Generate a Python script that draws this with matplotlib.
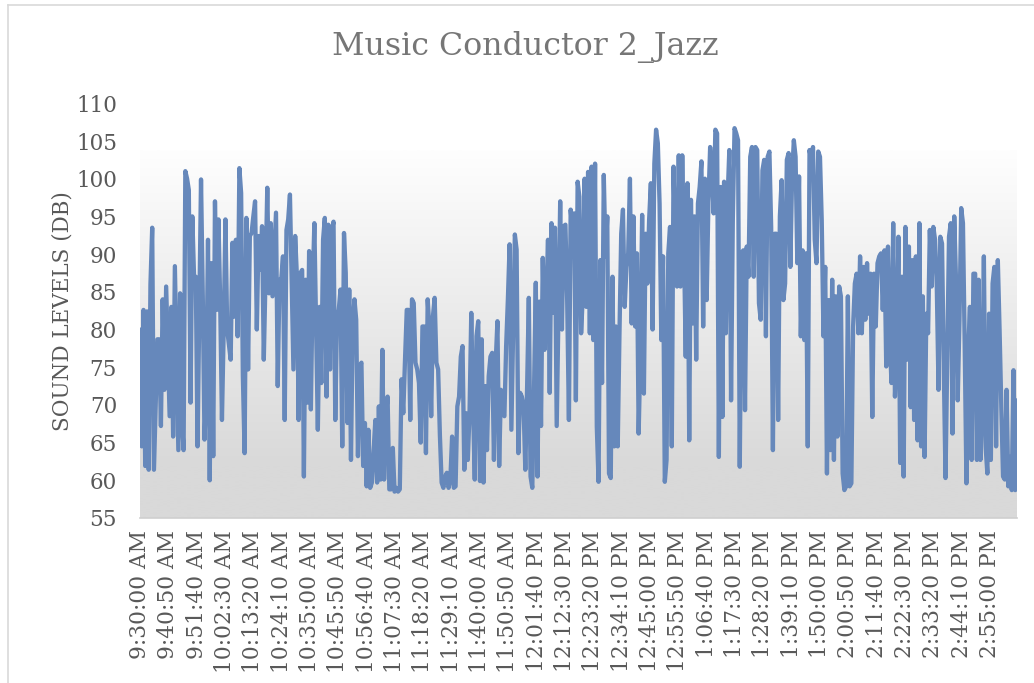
import numpy as np
import matplotlib
matplotlib.use("Agg")
import matplotlib.pyplot as plt
from matplotlib.lines import Line2D

# ---------------- data ----------------
step_seconds = 40          # spacing of the plotted samples
label_step_seconds = 650   # spacing of the category labels (10 min 50 s)

# sound levels (dB), left to right
db_0930_1032 = [80, 64.5, 82.6, 61.9, 82.4, 61.4, 86, 93.5, 61.4, 70, 78.7, 78.7, 67.2, 84, 72, 85.7, 77,
                68.5, 83, 65.8, 88.4, 76, 64, 84.8, 68, 64, 101, 100, 98.5, 70.3, 95, 87, 87, 64.5, 82,
                99.9, 84.4, 65.4, 72, 91.9, 60, 88.8, 63.2, 97, 82.6, 94.6, 83.5, 68, 80, 94.6, 80, 78,
                76, 91.5, 81.7, 91.9, 79.1, 101.4, 98.1, 73.8, 63.6, 94.8, 74.7, 92.4, 92.8, 95, 97, 80,
                92.4, 87.9, 93.7, 76, 87, 98.8, 84.8, 94.1, 84.4, 90, 95.5, 72.5, 86.6]
db_1032_1128 = [86.6, 89.7, 68, 93.2, 94.6, 97.9, 86, 74.7, 92.4, 87, 68, 87.5, 87.9, 60.5, 86.6, 70.3,
                90.4, 69.4, 85.3, 94.1, 80, 66.7, 83, 72.9, 91.9, 94.8, 71.1, 93.9, 74.7, 93.2, 94.3, 68,
                81.7, 82.6, 85.3, 64.5, 92.8, 87.5, 67.6, 85.3, 62.7, 80.9, 84, 81.3, 63.2, 75.1, 75.6,
                61.9, 67.6, 59.2, 66.7, 59, 59.7, 64, 68, 59.7, 69.8, 60.1, 77.3, 60.1, 68.5, 71.1, 58.8,
                58.8, 64.3, 58.5, 59, 58.5, 58.8, 73.4, 68.9, 76, 82.6, 82.6, 68, 84, 83.5, 75.6, 74.7,
                72.9, 65, 80.4, 80.4, 63.6]
db_1128_1224 = [84, 80, 68.5, 81.7, 84.2, 75.6, 74.7, 66, 59.7, 59, 60.5, 61, 59, 60.1, 65.8, 59, 59.2,
                69.8, 71.1, 76.4, 77.8, 61.4, 68.9, 62.7, 68.9, 82.2, 70, 60.1, 79.1, 81.1, 59.9, 78.7,
                59.7, 72.5, 64, 73.8, 76.4, 76.9, 62.7, 75.6, 81.1, 61.9, 72, 68.9, 68.5, 77.8, 84, 91.3,
                66.7, 80, 92.6, 90.6, 63.6, 71.6, 71.1, 69.8, 61.4, 72, 84.2, 60.5, 59, 72, 86.2, 60.5,
                83.7, 67.2, 89.5, 77.3, 83.5, 91.9, 71.6, 94.1, 82.2, 93.5, 67.2, 82, 97, 80, 93.7, 93.9,
                84, 68, 95.9, 93.2]
db_1224_1320 = [95.4, 70.6, 99.6, 97.6, 79.5, 84.8, 100, 83, 100.9, 79.5, 101.6, 78.6, 102, 67.1, 59.8,
                89.2, 72.9, 100.5, 89.7, 95, 60.9, 60.3, 87, 64.5, 80.4, 64.5, 79.5, 92.7, 95.9, 83, 88.3,
                90.1, 100, 80.8, 95, 80.4, 90.1, 66.2, 76.8, 95.2, 71.5, 92.7, 86.1, 94.5, 99.4, 80, 102,
                106.5, 104.7, 96.7, 78.6, 89.7, 59.8, 62.7, 90.1, 93.6, 64.5, 101.6, 91, 85.7, 103.1, 85.7,
                103.1, 91, 76.4, 99.4, 65.3, 97.2, 80.8, 95, 76, 96.7, 98.9, 102.3, 80.4, 100, 83.9, 96.7,
                104.2, 101.1, 95.4, 106.5, 106, 63.1]
db_1320_1416 = [98.9, 68.4, 99.6, 79.5, 97.2, 103.8, 70.6, 94.5, 106.7, 106, 105.1, 61.8, 90.1, 90.5,
                69.3, 91, 87, 102.9, 104.2, 87, 104.2, 103.8, 83.5, 81.3, 101.1, 102.5, 79.1, 102.9,
                103.6, 93.6, 64, 92.7, 92.7, 68, 95, 99.8, 83.9, 86.1, 102.5, 103.4, 88.3, 100.3, 105.1,
                102.9, 88.8, 100.3, 79.1, 90.5, 78.6, 90.1, 64.5, 103.8, 102.5, 104.2, 91.9, 88.8, 103.6,
                102.9, 94.5, 79.1, 88.3, 60.9, 83.9, 64, 86.6, 62.7, 84.4, 65.8, 85.7, 84.4, 60.9, 58.7,
                59.2, 84.4, 59.2, 59.6, 80.4, 86.1, 87.4, 79.5, 89.7, 79.5, 88.3, 81.3]
db_1416_1505 = [88.8, 82.1, 87.4, 68.4, 87.4, 80.4, 88.8, 89.7, 90.1, 82.6, 90.5, 75.1, 91, 79, 72.9,
                94.1, 71.1, 76.8, 92.3, 62.3, 87, 60.5, 93.6, 76, 91, 69.7, 89.2, 68, 89.7, 65.3, 94.1,
                64.5, 84.4, 63.1, 82.1, 79.5, 93.2, 85.7, 93.6, 91.9, 85.7, 72, 92.3, 91.4, 75, 60.3, 76,
                92.3, 94.1, 66.2, 95, 86.6, 70.6, 81.3, 96.1, 94.1, 78, 59.6, 76.8, 83, 62.7, 87.4, 87.4,
                62.7, 86.6, 62.7, 69.7, 89.7, 64.5, 60.9, 82.1, 62.7, 86.1, 88.3, 64.5, 89.2, 80, 69.7,
                60.5, 60.1, 72, 59.2, 63.1, 58.7, 74.6, 58.7, 70.6]

time_labels = ["9:30:00 AM", "9:40:50 AM", "9:51:40 AM", "10:02:30 AM", "10:13:20 AM", "10:24:10 AM",
               "10:35:00 AM", "10:45:50 AM", "10:56:40 AM", "11:07:30 AM", "11:18:20 AM", "11:29:10 AM",
               "11:40:00 AM", "11:50:50 AM", "12:01:40 PM", "12:12:30 PM", "12:23:20 PM", "12:34:10 PM",
               "12:45:00 PM", "12:55:50 PM", "1:06:40 PM", "1:17:30 PM", "1:28:20 PM", "1:39:10 PM",
               "1:50:00 PM", "2:00:50 PM", "2:11:40 PM", "2:22:30 PM", "2:33:20 PM", "2:44:10 PM",
               "2:55:00 PM"]
y_ticks = [55, 60, 65, 70, 75, 80, 85, 90, 95, 100, 105, 110]

title = "Music Conductor 2_Jazz"
y_label = "SOUND LEVELS (DB)"

# ---------------- figure ----------------
values = np.array(db_0930_1032 + db_1032_1128 + db_1128_1224 +
                  db_1224_1320 + db_1320_1416 + db_1416_1505, dtype=float)
t = np.arange(len(values)) * step_seconds
label_pos = np.arange(len(time_labels)) * label_step_seconds

plt.rcParams['font.family'] = ['DejaVu Serif']
TXT = '#595959'

W, H = 1034, 683
fig = plt.figure(figsize=(W / 100, H / 100), dpi=100)
left, right, top, bottom = 140, 1017, 103.3, 518
ax = fig.add_axes([left / W, 1 - bottom / H, (right - left) / W, (bottom - top) / H])

xmax = t[-1]
# plot-area gradient (grey at bottom, white toward top)
yy = np.linspace(55, 103.8, 300)
f = np.clip((yy - 62) / (103.8 - 62), 0, 1)
c = (217 + (254 - 217) * f) / 255.0
img = np.dstack([c, c, c]).reshape(-1, 1, 3)
ax.imshow(img, extent=[0, xmax, 55, 103.8], aspect='auto', origin='lower', zorder=0,
          interpolation='bilinear')

ax.plot(t, values, color='#6688bb', lw=3.1, solid_joinstyle='round',
        solid_capstyle='round', zorder=3)

ax.set_xlim(0, xmax)
ax.set_ylim(55, 110)
ax.set_yticks(y_ticks)
ax.set_yticklabels([str(v) for v in y_ticks])
ax.set_xticks(label_pos)
ax.set_xticklabels(time_labels, rotation=90)
ax.tick_params(axis='y', length=0, pad=16.5, labelsize=15.5, labelcolor=TXT)
ax.tick_params(axis='x', length=0, pad=8.5, labelsize=15.7, labelcolor=TXT)
for s in ['top', 'right', 'left']:
    ax.spines[s].set_visible(False)
ax.spines['bottom'].set_color('#cfcfcf')
ax.spines['bottom'].set_linewidth(1.2)
ax.patch.set_alpha(0)

fig.text(62 / W, 1 - 311 / H, y_label, rotation=90, ha='center', va='center',
         fontsize=15.5, color=TXT)
fig.text(525 / W, 1 - 47 / H, title, ha='center', va='center', fontsize=22.8, color='#767676')

# chart border (left & top visible in the crop)
fig.add_artist(Line2D([7.5 / W, 7.5 / W], [0, 1 - 5 / H], color='#d9d9d9', lw=1.2))
fig.add_artist(Line2D([7.5 / W, 1], [1 - 5 / H, 1 - 5 / H], color='#d9d9d9', lw=1.2))

fig.savefig('out.png', dpi=100, facecolor='white')
